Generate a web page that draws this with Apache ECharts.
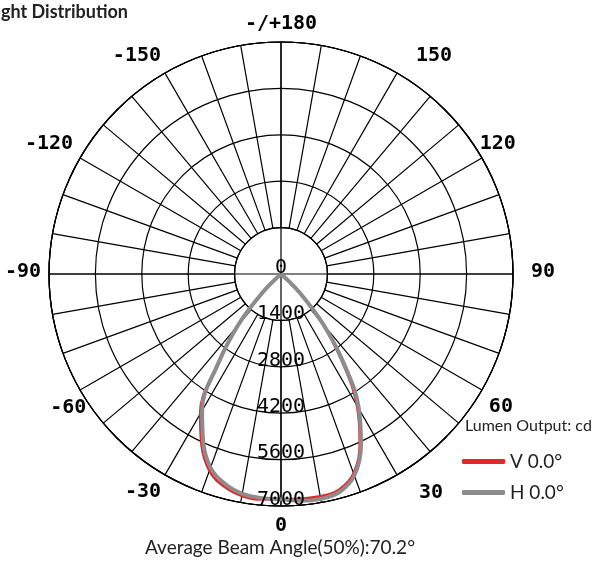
<!DOCTYPE html>
<html>
<head>
<meta charset="utf-8">
<script src="https://cdn.jsdelivr.net/npm/echarts@6/dist/echarts.min.js"></script>
<style>
html,body{margin:0;padding:0;background:#fff;}
#chart{width:597px;height:565px;}
</style>
</head>
<body>
<div id="chart"></div>
<script>
// ---- data ----
var angles = [-50,-45,-40,-35,-30,-25,-20,-15,-10,-5,0,5,10,15,20,25,30,35,40,45,50];
var vValues = [0,850,2100,3400,4880,5680,6320,6640,6800,6830,6800,6800,6810,6740,6400,5620,4580,3200,1900,700,0];
var hValues = [0,750,2000,3300,4760,5560,6220,6550,6730,6790,6800,6870,6890,6810,6470,5710,4700,3320,2000,800,0];
var seriesNames = ['V 0.0°', 'H 0.0°'];
var radiusTicks = [0, 1400, 2800, 4200, 5600, 7000];
var angleLabelStep = 30;
var spokeStep = 10;
var titleText = 'Light Distribution';
var unitText = 'Lumen Output: cd';
var beamText = 'Average Beam Angle(50%):70.2°';

function toPolar(vals) {
  return angles.map(function (a, i) { return [vals[i], a < 0 ? a + 360 : a]; });
}

var CX = 281, CY = 274, R = 232;
var mono = '"DejaVu Sans Mono", monospace';
var sans = 'Lato, "Open Sans", sans-serif';

// label nudges (style only), keyed by axis value
var labelStyle = {
  0: {padding: [2, 0, 0, 0]},
  30: {padding: [1, 0, 0, 18]},
  60: {padding: [3, 0, 0, 0]},
  90: {padding: [0, 0, 4, 10]},
  120: {width: 27, align: 'right'},
  150: {padding: [0, 0, 0, 15]},
  180: {},
  210: {},
  240: {},
  270: {padding: [0, 0, 4, 0]},
  300: {width: 23, align: 'left', padding: [4, 0, 0, 0]},
  330: {}
};
var rich = {};
Object.keys(labelStyle).forEach(function (k) {
  var s = {fontFamily: mono, fontSize: 20, fontWeight: 'bold', color: '#000'};
  Object.keys(labelStyle[k]).forEach(function (p) { s[p] = labelStyle[k][p]; });
  rich['a' + k] = s;
});

var chart = echarts.init(document.getElementById('chart'), null, {renderer: 'canvas'});
var option = {
  animation: false,
  backgroundColor: '#fff',
  title: [
    {text: titleText, left: -13, top: 3, padding: 0,
     textStyle: {fontFamily: sans, fontSize: 18, fontWeight: 'bold', color: '#222'}},
    {text: unitText, left: 465, top: 418, padding: 0,
     textStyle: {fontFamily: sans, fontSize: 16, fontWeight: 'normal', color: '#222'}},
    {text: beamText, left: 280, textAlign: 'center', top: 538, padding: 0,
     textStyle: {fontFamily: sans, fontSize: 19, fontWeight: 'normal', color: '#222'}}
  ],
  legend: {
    data: seriesNames, orient: 'vertical', left: 462, top: 452, padding: 0,
    itemWidth: 43, itemHeight: 5, itemGap: 12, icon: 'roundRect',
    textStyle: {fontFamily: sans, fontSize: 19, color: '#222'}
  },
  polar: [
    {center: [CX, CY], radius: [0, R]},
    {center: [CX, CY], radius: [R / 5, R]},
    {center: [CX, CY], radius: [0, R]}
  ],
  angleAxis: [
    {polarIndex: 0, type: 'value', min: 0, max: 360, interval: angleLabelStep,
     startAngle: 270, clockwise: false,
     axisLine: {show: true, lineStyle: {color: '#000', width: 1.2}},
     axisTick: {show: false}, splitLine: {show: false},
     axisLabel: {show: true, margin: 8,
       fontFamily: mono, fontSize: 20, fontWeight: 'bold', color: '#000', rich: rich,
       formatter: function (v) {
         if (v === 360) return '';
         var t = v === 180 ? '-/+180' : (v > 180 ? String(v - 360) : String(v));
         return '{a' + v + '|' + t + '}';
       }}},
    {polarIndex: 1, type: 'value', min: 0, max: 360, interval: spokeStep,
     startAngle: 270, clockwise: false,
     axisLine: {show: true, lineStyle: {color: '#000', width: 1.2}},
     axisTick: {show: false}, axisLabel: {show: false},
     splitLine: {show: true, lineStyle: {color: '#000', width: 1.2}}},
    {polarIndex: 2, type: 'value', min: 0, max: 360, interval: 90,
     startAngle: 270, clockwise: false,
     axisLine: {show: false}, axisTick: {show: false}, axisLabel: {show: false},
     splitLine: {show: true, lineStyle: {color: '#000', width: 1.2}}}
  ],
  radiusAxis: [
    {polarIndex: 0, type: 'value', min: radiusTicks[0], max: radiusTicks[radiusTicks.length - 1],
     interval: radiusTicks[1] - radiusTicks[0],
     axisLine: {show: false}, axisTick: {show: false}, axisLabel: {show: false},
     splitLine: {show: true, lineStyle: {color: '#000', width: 1.2}}},
    {polarIndex: 1, type: 'value', show: false},
    {polarIndex: 2, type: 'value', min: radiusTicks[0], max: radiusTicks[radiusTicks.length - 1],
     interval: radiusTicks[1] - radiusTicks[0], z: 10,
     axisLine: {show: false}, axisTick: {show: false}, splitLine: {show: false},
     axisLabel: {show: true, margin: 0, align: 'center', verticalAlign: 'bottom', lineHeight: 13,
       fontFamily: mono, fontSize: 20, color: '#000', showMaxLabel: true, showMinLabel: true,
       formatter: function (v) { return String(v); }}}
  ],
  series: [
    {name: seriesNames[0], type: 'line', coordinateSystem: 'polar', polarIndex: 0,
     data: toPolar(vValues), smooth: 0.4, symbol: 'none',
     lineStyle: {color: '#e2272d', width: 2.5}, itemStyle: {color: '#e2272d'}, z: 3},
    {name: seriesNames[1], type: 'line', coordinateSystem: 'polar', polarIndex: 0,
     data: toPolar(hValues), smooth: 0.4, symbol: 'none',
     lineStyle: {color: '#8c8c8c', width: 4}, itemStyle: {color: '#8c8c8c'}, z: 4}
  ]
};
chart.setOption(option);
</script>
</body>
</html>
